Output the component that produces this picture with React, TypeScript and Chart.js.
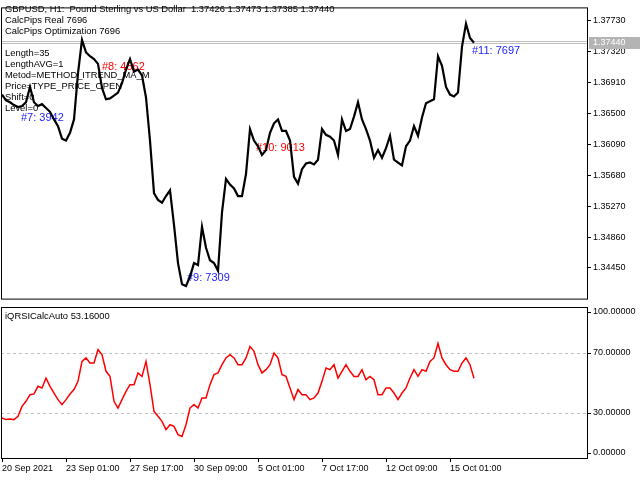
import { useEffect, useRef } from "react"
import { Chart, registerables, type Plugin } from "chart.js"

Chart.register(...registerables)

const FONT = "Liberation Sans"

// H1 bars, one sample every 4 bars starting at bar 1 (1 bar = 1 px on the chart)
const firstBar = 1
const barStep = 4
const barsVisible = 586

const priceClose = [
  1.36751, 1.36675, 1.36649, 1.36611, 1.36586, 1.36599, 1.36649, 1.36853, 1.36649, 1.36599,
  1.36624, 1.36573, 1.36522, 1.36421, 1.36332, 1.36166, 1.36141, 1.36243, 1.36421, 1.37031,
  1.37476, 1.37311, 1.3726, 1.37222, 1.37158, 1.3684, 1.36688, 1.367, 1.36738, 1.36777,
  1.36904, 1.37082, 1.37222, 1.37056, 1.37082, 1.37005, 1.36713, 1.36141, 1.35442, 1.35353,
  1.35315, 1.35404, 1.3548, 1.35022, 1.34514, 1.34234, 1.34209, 1.34336, 1.34514, 1.34488,
  1.34997, 1.34717, 1.34552, 1.34514, 1.34412, 1.35187, 1.35632, 1.35556, 1.35505, 1.35404,
  1.35404, 1.35696, 1.36293, 1.36141, 1.36065, 1.3595, 1.36014, 1.36243, 1.3637, 1.36421,
  1.36268, 1.36268, 1.36141, 1.35658, 1.35569, 1.3576, 1.35836, 1.35849, 1.35823, 1.35887,
  1.36293, 1.36217, 1.36192, 1.36141, 1.3595, 1.36421, 1.36268, 1.36293, 1.36459, 1.36649,
  1.36421, 1.36293, 1.36141, 1.35912, 1.36014, 1.35912, 1.36039, 1.36204, 1.35887, 1.35849,
  1.3581, 1.36065, 1.36141, 1.36332, 1.36204, 1.36446, 1.36637, 1.36662, 1.36688, 1.3726,
  1.37132, 1.36853, 1.36751, 1.36726, 1.36777, 1.37387, 1.37692, 1.37501, 1.3744,
]

const rsiValues = [
  26.7, 25.6, 26.0, 25.6, 27.8, 34.4, 37.8, 42.2, 42.7, 47.8,
  46.7, 53.3, 47.8, 43.3, 38.9, 35.6, 38.9, 42.7, 45.6, 51.1,
  64.4, 66.7, 63.3, 63.3, 72.2, 68.9, 57.8, 54.4, 37.8, 33.3,
  38.9, 44.4, 48.9, 48.9, 56.7, 54.4, 64.4, 48.9, 31.1, 27.8,
  24.4, 18.9, 22.2, 21.1, 15.6, 14.4, 22.2, 33.3, 35.6, 33.3,
  40.0, 40.0, 48.9, 55.6, 56.7, 62.2, 66.7, 68.9, 66.7, 62.2,
  62.2, 66.7, 74.4, 71.1, 62.2, 56.7, 58.9, 62.2, 70.0, 66.7,
  55.6, 54.4, 46.7, 38.9, 45.6, 42.2, 42.2, 38.9, 40.0, 43.3,
  51.1, 60.0, 58.9, 62.2, 53.3, 57.8, 62.2, 57.8, 54.4, 54.4,
  58.9, 52.2, 54.4, 52.2, 42.2, 42.2, 46.7, 46.7, 43.3, 38.9,
  43.3, 46.7, 53.3, 58.9, 54.4, 58.9, 57.8, 64.4, 66.7, 76.5,
  66.7, 62.2, 58.9, 57.8, 57.8, 63.3, 66.7, 62.2, 53.16,
]

const priceTicks = [1.3445, 1.3486, 1.3527, 1.3568, 1.3609, 1.365, 1.3691, 1.3732, 1.3773]
const priceMin = 1.34043
const priceMax = 1.37908
const bidPrice = 1.3744
const askPrice = 1.37458

const rsiTicks = [0, 30, 70, 100]
const rsiLevels = [30, 70]

const timeTickBars = [1, 65, 129, 193, 257, 321, 385, 449]
const timeTickLabels = [
  "20 Sep 2021", "23 Sep 01:00", "27 Sep 17:00", "30 Sep 09:00",
  "5 Oct 01:00", "7 Oct 17:00", "12 Oct 09:00", "15 Oct 01:00",
]

const headerLines = [
  "GBPUSD, H1:  Pound Sterling vs US Dollar  1.37426 1.37473 1.37385 1.37440",
  "CalcPips Real 7696",
  "CalcPips Optimization 7696",
]
const paramLines = [
  "Length=35",
  "LengthAVG=1",
  "Metod=METHOD_ITREND_MA_M",
  "Price=TYPE_PRICE_OPEN",
  "Shift=0",
  "Level=0",
]

const passTexts = ["#7: 3942", "#8: 4562", "#9: 7309", "#10: 9013", "#11: 7697"]
const passBars = [20, 101, 186, 255, 471]
const passPrices = [1.36446, 1.37116, 1.34323, 1.36043, 1.37336]
const passColors = ["#2424ff", "#ff0000", "#2424ff", "#ff0000", "#2424ff"]

const indicatorName = "iQRSICalcAuto"

const pricePlugin: Plugin<"line"> = {
  id: "priceDecor",
  beforeDatasetsDraw(chart) {
    const { ctx, chartArea, scales } = chart
    const y = scales.y
    const x = scales.x
    ctx.save()
    // bid / ask lines
    ctx.strokeStyle = "#c0c0c0"
    ctx.lineWidth = 1
    for (const p of [askPrice, bidPrice]) {
      const py = Math.round(y.getPixelForValue(p)) + 0.5
      ctx.beginPath()
      ctx.moveTo(chartArea.left, py)
      ctx.lineTo(chartArea.right, py)
      ctx.stroke()
    }
    ctx.fillStyle = "#000"
    ctx.font = `9.4px "${FONT}"`
    ctx.textBaseline = "middle"
    ctx.textAlign = "left"
    headerLines.forEach((t, i) => ctx.fillText(t, 5, 9.5 + i * 11.2))
    paramLines.forEach((t, i) => ctx.fillText(t, 5, 53.5 + i * 11))
    ctx.font = `11px "${FONT}"`
    passTexts.forEach((t, i) => {
      ctx.fillStyle = passColors[i]
      ctx.fillText(t, x.getPixelForValue(passBars[i]), y.getPixelForValue(passPrices[i]))
    })
    ctx.restore()
  },
  afterDraw(chart) {
    const { ctx, chartArea, scales } = chart
    ctx.save()
    ctx.strokeStyle = "#000"
    ctx.lineWidth = 1
    ctx.strokeRect(chartArea.left + 0.5, chartArea.top + 0.5, chartArea.right - chartArea.left, chartArea.bottom - chartArea.top)
    const py = scales.y.getPixelForValue(bidPrice)
    ctx.fillStyle = "#b4b4b4"
    ctx.fillRect(chartArea.right + 2, Math.round(py) - 6, 60, 12)
    ctx.fillStyle = "#fff"
    ctx.font = `9px "${FONT}"`
    ctx.textBaseline = "middle"
    ctx.fillText(bidPrice.toFixed(5), chartArea.right + 6, Math.round(py))
    ctx.restore()
  },
}

const rsiPlugin: Plugin<"line"> = {
  id: "rsiDecor",
  beforeDatasetsDraw(chart) {
    const { ctx, chartArea, scales } = chart
    const y = scales.y
    ctx.save()
    ctx.strokeStyle = "#c0c0c0"
    ctx.lineWidth = 1
    ctx.setLineDash([3, 3])
    for (const lv of rsiLevels) {
      const py = Math.round(y.getPixelForValue(lv)) + 0.5
      ctx.beginPath()
      ctx.moveTo(chartArea.left, py)
      ctx.lineTo(chartArea.right, py)
      ctx.stroke()
    }
    ctx.setLineDash([])
    ctx.fillStyle = "#000"
    ctx.font = `9.4px "${FONT}"`
    ctx.textBaseline = "middle"
    const last = rsiValues[rsiValues.length - 1]
    ctx.fillText(`${indicatorName} ${last.toFixed(5)}`, 5, chartArea.top + 8)
    ctx.restore()
  },
  afterDraw(chart) {
    const { ctx, chartArea, scales } = chart
    const y = scales.y
    ctx.save()
    ctx.strokeStyle = "#000"
    ctx.lineWidth = 1
    ctx.strokeRect(chartArea.left + 0.5, chartArea.top - 0.5, chartArea.right - chartArea.left, chartArea.bottom - chartArea.top + 1)
    ctx.fillStyle = "#000"
    ctx.font = `9px "${FONT}"`
    ctx.textBaseline = "middle"
    ctx.textAlign = "left"
    for (const v of rsiTicks) {
      const raw = y.getPixelForValue(v)
      const py = Math.round(Math.min(Math.max(raw, chartArea.top + 4), chartArea.bottom - 5))
      ctx.beginPath()
      ctx.moveTo(chartArea.right, py + 0.5)
      ctx.lineTo(chartArea.right + 4, py + 0.5)
      ctx.stroke()
      ctx.fillText(v.toFixed(5), chartArea.right + 6, py)
    }
    ctx.restore()
  },
}

export default function App() {
  const topRef = useRef<HTMLCanvasElement>(null)
  const bottomRef = useRef<HTMLCanvasElement>(null)

  useEffect(() => {
    if (!topRef.current || !bottomRef.current) return
    const axisFont = { size: 9, family: FONT }

    const priceChart = new Chart(topRef.current, {
      type: "line",
      data: {
        datasets: [
          {
            data: priceClose.map((p, i) => ({ x: firstBar + i * barStep, y: p })),
            borderColor: "#000000",
            borderWidth: 2.2,
            pointRadius: 0,
            tension: 0,
          },
        ],
      },
      options: {
        animation: false,
        responsive: false,
        devicePixelRatio: 1,
        layout: { padding: { left: 1, top: 1, right: 0, bottom: 1 } },
        plugins: { legend: { display: false }, tooltip: { enabled: false } },
        scales: {
          x: { type: "linear", min: 0, max: barsVisible, display: false },
          y: {
            type: "linear",
            position: "right",
            min: priceMin,
            max: priceMax,
            afterFit: (s) => {
              s.width = 53
            },
            afterBuildTicks: (s) => {
              s.ticks = priceTicks.map((v) => ({ value: v }))
            },
            grid: { drawOnChartArea: false, tickLength: 4, color: "#000" },
            border: { display: false },
            ticks: {
              padding: 2,
              color: "#000",
              font: axisFont,
              callback: (v) => Number(v).toFixed(5),
            },
          },
        },
      },
      plugins: [pricePlugin],
    })

    const rsiChart = new Chart(bottomRef.current, {
      type: "line",
      data: {
        datasets: [
          {
            data: rsiValues.map((v, i) => ({ x: firstBar + i * barStep, y: v })),
            borderColor: "#ff0000",
            borderWidth: 1.5,
            pointRadius: 0,
            tension: 0,
          },
        ],
      },
      options: {
        animation: false,
        responsive: false,
        devicePixelRatio: 1,
        layout: { padding: { left: 1, top: 2, right: 0, bottom: 0 } },
        plugins: { legend: { display: false }, tooltip: { enabled: false } },
        scales: {
          x: {
            type: "linear",
            min: 0,
            max: barsVisible,
            afterFit: (s) => {
              s.height = 22
            },
            afterBuildTicks: (s) => {
              s.ticks = timeTickBars.map((v) => ({ value: v }))
            },
            grid: { drawOnChartArea: false, tickLength: 4, color: "#000" },
            border: { display: false },
            ticks: {
              align: "start",
              maxRotation: 0,
              autoSkip: false,
              padding: 1,
              color: "#000",
              font: axisFont,
              callback: (_v, i) => timeTickLabels[i],
            },
          },
          y: {
            type: "linear",
            position: "right",
            min: 0,
            max: 100,
            afterFit: (s) => {
              s.width = 53
            },
            ticks: { display: false },
            grid: { display: false },
            border: { display: false },
          },
        },
      },
      plugins: [rsiPlugin],
    })

    return () => {
      priceChart.destroy()
      rsiChart.destroy()
    }
  }, [])

  return (
    <div style={{ position: "fixed", left: 0, top: 0, width: 640, height: 480, background: "#fff" }}>
      <canvas ref={topRef} width={640} height={306} style={{ position: "absolute", left: 0, top: 0 }} />
      <canvas ref={bottomRef} width={640} height={174} style={{ position: "absolute", left: 0, top: 306 }} />
    </div>
  )
}
